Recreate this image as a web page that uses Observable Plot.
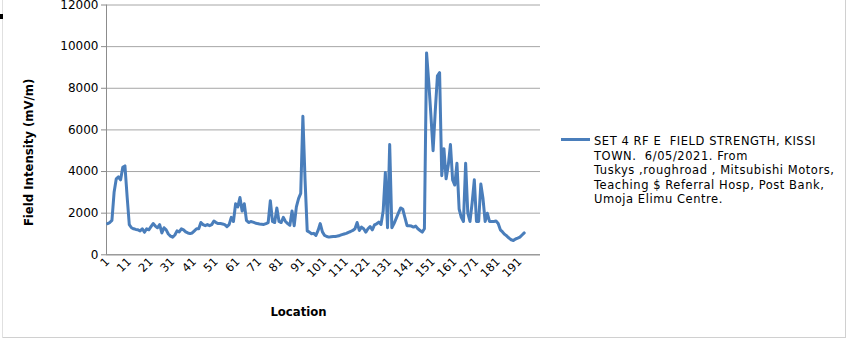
<!DOCTYPE html>
<html>
<head>
<meta charset="utf-8">
<script src="https://cdn.jsdelivr.net/npm/d3@7"></script>
<script src="https://cdn.jsdelivr.net/npm/@observablehq/plot@0.6"></script>
<style>
  html, body { margin: 0; padding: 0; background: #fff; }
  #wrap { position: relative; width: 848px; height: 339px; overflow: hidden; font-family: "DejaVu Sans", sans-serif; }
  #legend { position: absolute; left: 561px; top: 134px; }
  #legend .swatch { position: absolute; left: 0; top: 3.5px; width: 29px; height: 3px; background: #4a7ebb; }
  #legend .txt { position: absolute; left: 33px; top: 0; width: 280px; font-size: 11.5px; line-height: 14.6px; letter-spacing: 0.55px; color: #000; white-space: nowrap; }
  #frameR { position: absolute; left: 845px; top: 0; width: 1px; height: 338px; background: #d0d0d0; }
  #frameB { position: absolute; left: 2px; top: 337px; width: 844px; height: 1px; background: #d0d0d0; }
  #frameL { position: absolute; left: 2px; top: 0; width: 1px; height: 338px; background: #e0e0e0; }
  #mark { position: absolute; left: 0; top: 14px; width: 3px; height: 5px; background: #000; }
</style>
</head>
<body>
<div id="wrap"></div>
<script>
// Category index runs 1..N along the x axis (category axis of 200 slots)
const xTicks = [1, 11, 21, 31, 41, 51, 61, 71, 81, 91, 101, 111, 121, 131, 141, 151, 161, 171, 181, 191];
const yTicks = [0, 2000, 4000, 6000, 8000, 10000, 12000];
const seriesName = ["SET 4 RF E  FIELD STRENGTH, KISSI", "TOWN.  6/05/2021. From", "Tuskys ,roughroad , Mitsubishi Motors,", "Teaching $ Referral Hosp, Post Bank,", "Umoja Elimu Centre."];
const yTitle = "Field Intensity (mV/m)";
const xTitle = "Location";
const fieldStrength = [
  1500, 1550, 1650, 3000, 3650, 3750, 3600, 4200, 4270, 2800,
  1450, 1300, 1250, 1220, 1200, 1150, 1250, 1080, 1250, 1200,
  1350, 1500, 1380, 1300, 1450, 1050, 1300, 1200, 1000, 900,
  850, 950, 1150, 1100, 1250, 1200, 1100, 1050, 1020, 1050,
  1150, 1250, 1250, 1550, 1450, 1400, 1450, 1400, 1450, 1620,
  1550, 1500, 1500, 1480, 1450, 1350, 1450, 1800, 1600, 2450,
  2300, 2750, 2100, 2450, 1650, 1550, 1600, 1570, 1530, 1500,
  1480, 1470, 1460, 1500, 1550, 2600, 1600, 1550, 2250, 1600,
  1550, 1800, 1600, 1500, 1420, 2100, 1400, 2300, 2700, 2950,
  6650, 3600, 1150, 1090, 1010, 1030, 930, 1170, 1500, 1100,
  930, 880, 850, 870, 880, 880, 900, 930, 970, 1000,
  1030, 1080, 1120, 1170, 1250, 1550, 1170, 1330, 1250, 1090,
  1250, 1360, 1200, 1440, 1490, 1570, 1460, 2100, 3950, 1300,
  5300, 1300, 1500, 1750, 2000, 2250, 2200, 1800, 1400, 1400,
  1380, 1330, 1380, 1250, 1170, 1090, 1250, 9700, 8300, 6700,
  5000, 6900, 8600, 8750, 3800, 5100, 3650, 4300, 5300, 3600,
  3350, 4400, 2200, 1800, 1600, 4400, 2000, 1600, 2500, 3600,
  1600, 1600, 3400, 2700, 1600, 2000, 1600, 1600, 1600, 1620,
  1500, 1200, 1100, 980, 900, 800, 720, 690, 760, 800,
  850, 950, 1050
];
const slots = 200;

const grey = "#8c8c8c";
const chart = Plot.plot({
  width: 848,
  height: 339,
  marginLeft: 106,
  marginRight: 308,
  marginTop: 4.5,
  marginBottom: 84.7,
  style: { fontFamily: "DejaVu Sans", fontSize: "12px", color: "#000", background: "transparent", overflow: "visible" },
  x: { type: "linear", domain: [0.5, slots + 0.5] },
  y: { domain: [0, 12000] },
  marks: [
    Plot.gridY(yTicks, { stroke: "#a6a6a6", strokeOpacity: 1, strokeWidth: 1 }),
    Plot.axisY(yTicks, { tickSize: 5, tickPadding: 3, stroke: grey, label: null, tickFormat: d => String(d), fontSize: 12 }),
    Plot.axisX(xTicks, { tickSize: 0, tickPadding: 5, tickRotate: -45, label: null, tickFormat: d => String(d), fontSize: 11.5 }),
    Plot.ruleX([0.5], { stroke: grey }),
    Plot.ruleY([0], { stroke: grey }),
    Plot.lineY(fieldStrength, { x: (d, i) => i + 1, y: d => d, stroke: "#4a7ebb", strokeWidth: 3, strokeLinejoin: "round" }),
    Plot.text([yTitle], { frameAnchor: "left", rotate: -90, dx: -77.7, dy: 22.5, fontWeight: "bold", fontSize: 11.7, textAnchor: "middle" }),
    Plot.text([xTitle], { frameAnchor: "bottom", dx: -25, dy: 61, fontWeight: "bold", fontSize: 11.7, textAnchor: "middle" })
  ]
});
const wrap = document.getElementById("wrap");
wrap.appendChild(chart);
chart.style.position = "absolute";
chart.style.left = "0";
chart.style.top = "0";

const legend = document.createElement("div");
legend.id = "legend";
legend.innerHTML = '<div class="swatch"></div><div class="txt"></div>';
legend.querySelector(".txt").innerHTML = seriesName
  .map(s => `<div>${s.replace(/ {2}/g, " &nbsp;")}</div>`)
  .join("");
wrap.appendChild(legend);
for (const id of ["frameR", "frameB", "frameL", "mark"]) {
  const d = document.createElement("div");
  d.id = id;
  wrap.appendChild(d);
}
</script>
</body>
</html>
